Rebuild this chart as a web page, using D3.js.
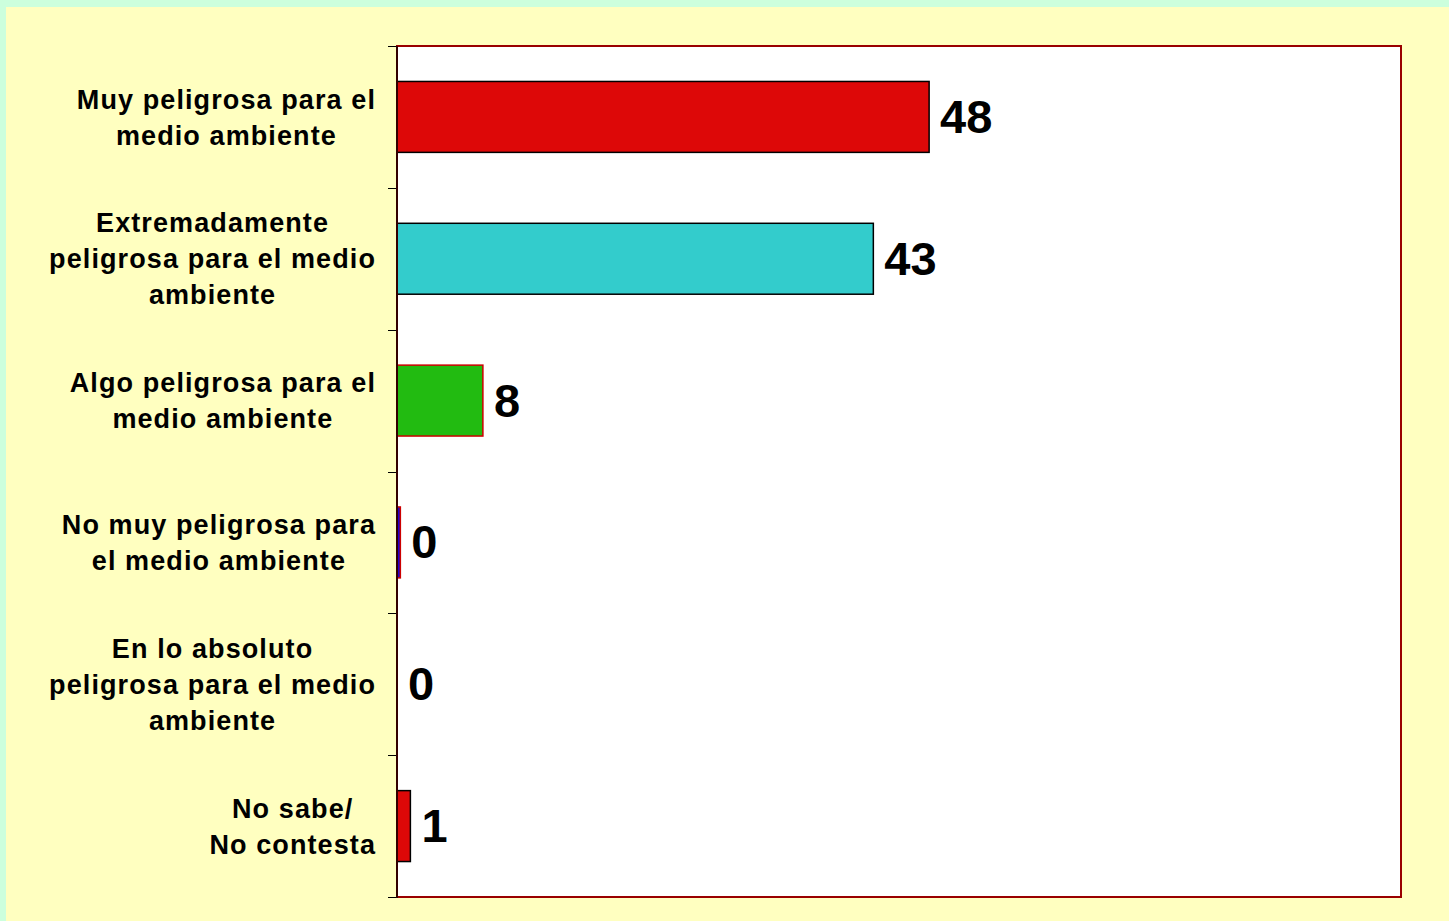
<!DOCTYPE html>
<html>
<head>
<meta charset="utf-8">
<script src="https://cdn.jsdelivr.net/npm/d3@7"></script>
<style>
  body { margin: 0; padding: 0; background: #ccffdd; }
  svg { display: block; }
  text { font-family: "Liberation Sans", Arial, sans-serif; font-weight: bold; fill: #000; }
</style>
</head>
<body>
<div id="chart"></div>
<script>
// Categories (each one split on its lines) and the percent values
const categories = [
    ["Muy peligrosa para el", "medio ambiente"],
    ["Extremadamente", "peligrosa para el medio", "ambiente"],
    ["Algo peligrosa para el", "medio ambiente"],
    ["No muy peligrosa para", "el medio ambiente"],
    ["En lo absoluto", "peligrosa para el medio", "ambiente"],
    ["No sabe/", "No contesta"]
];
const values = [47.7, 42.7, 7.7, 0.3, 0, 1.2];
const xDomain = [0, 90];

// Colours of the bars
const barFill = ["#dd0808", "#33cccc", "#22bb11", "#2200cc", "#ffffff", "#dd0808"];
const barStroke = ["#000000", "#000000", "#cc0000", "#cc0000", "#000000", "#000000"];

const width = 1449;
const height = 921;

const svg = d3.select("#chart")
    .append("svg")
    .attr("width", width)
    .attr("height", height);

// page background
svg.append("rect")
    .attr("width", width)
    .attr("height", height)
    .attr("fill", "#ccffdd");

svg.append("rect")
    .attr("x", 6)
    .attr("y", 7)
    .attr("width", width - 6)
    .attr("height", height - 7)
    .attr("fill", "#ffffc0");

// plot area
let plotLeft = 397;
let plotRight = 1401;
let plotTop = 46;
let plotBottom = 897;

const x = d3.scaleLinear()
    .domain(xDomain)
    .range([plotLeft, plotRight]);

const y = d3.scaleBand()
    .domain(d3.range(categories.length))
    .range([plotTop, plotBottom])
    .paddingInner(0.5)
    .paddingOuter(0.25);

svg.append("rect")
    .attr("x", plotLeft)
    .attr("y", plotTop)
    .attr("width", plotRight - plotLeft)
    .attr("height", plotBottom - plotTop)
    .attr("fill", "#ffffff")
    .attr("stroke", "#990000")
    .attr("stroke-width", 2);

// left axis with ticks on the band edges
const step = (plotBottom - plotTop) / categories.length;
const tickYs = d3.range(categories.length + 1).map(i => plotTop + i * step);

svg.selectAll(".tick-mark")
    .data(tickYs)
    .join("line")
    .attr("class", "tick-mark")
    .attr("x1", plotLeft - 9)
    .attr("x2", plotLeft)
    .attr("y1", d => Math.round(d) + 0.5)
    .attr("y2", d => Math.round(d) + 0.5)
    .attr("stroke", "#000")
    .attr("stroke-width", 1);

// bars
svg.selectAll(".bar")
    .data(values.map((v, i) => ({ v: v, i: i })).filter(d => d.v > 0))
    .join("rect")
    .attr("class", "bar")
    .attr("x", x(0))
    .attr("y", d => y(d.i))
    .attr("width", d => x(d.v) - x(0))
    .attr("height", y.bandwidth())
    .attr("fill", d => barFill[d.i])
    .attr("stroke", d => barStroke[d.i])
    .attr("stroke-width", 1.5);

svg.append("line")
    .attr("x1", plotLeft)
    .attr("x2", plotLeft)
    .attr("y1", plotTop)
    .attr("y2", plotBottom + 1)
    .attr("stroke", "#330000")
    .attr("stroke-width", 2);

// value labels
svg.selectAll(".value")
    .data(values)
    .join("text")
    .attr("class", "value")
    .attr("x", d => x(d) + 11)
    .attr("y", (d, i) => y(i) + y.bandwidth() / 2)
    .attr("dy", "0.34em")
    .style("font-size", "47px")
    .text(d => Math.round(d));

// category labels, each block centred with its widest line ending at labelRight
let labelRight = 376;
let lineGap = 36;

categories.forEach((lines, i) => {
    const cy = y(i) + y.bandwidth() / 2;
    const g = svg.append("g");
    const texts = g.selectAll("text")
        .data(lines)
        .join("text")
        .attr("y", (d, j) => cy + (j - (lines.length - 1) / 2) * lineGap + 9.7)
        .attr("text-anchor", "middle")
        .style("font-size", "27px")
        .style("letter-spacing", "1.1px")
        .text(d => d);
    let maxW = d3.max(texts.nodes(), n => n.getComputedTextLength());
    texts.attr("x", labelRight - maxW / 2);
});
</script>
</body>
</html>
